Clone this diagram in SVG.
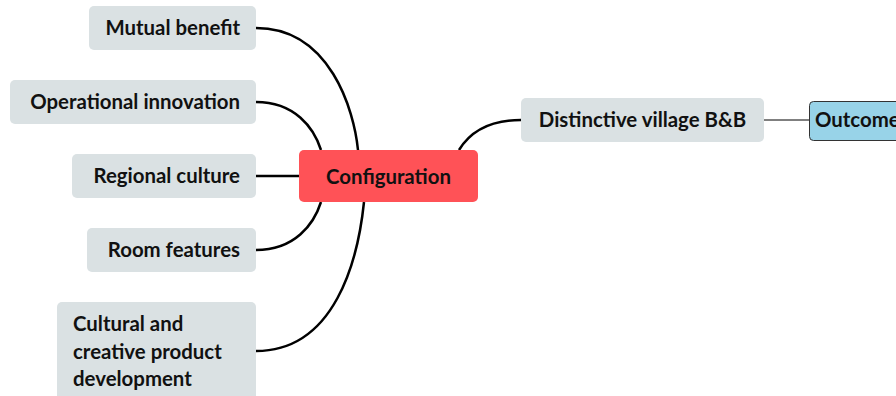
<svg xmlns="http://www.w3.org/2000/svg" width="896" height="396" viewBox="0 0 896 396">
<style>
.sub{fill:#dae1e3}
.t{font-family:Lato,"Noto Sans",sans-serif;font-weight:bold;font-size:20.4px;fill:#111}
.c{fill:none;stroke:#000;stroke-width:2.5}
</style>
<rect width="896" height="396" fill="#fff"/>
<g id="connectors">
<path class="c" d="M256,28 C330,28 354,110 358,150"/>
<path class="c" d="M256,102 C295,102 314,128 321,150"/>
<path class="c" d="M256,176 L299,176"/>
<path class="c" d="M256,250 C295,250 314,224 321,202"/>
<path class="c" d="M256,351 C335,351 358,260 364,202"/>
<path class="c" d="M459,150 C470,132 488,120 521,120"/>
<path d="M764,120 L809,120" stroke="#000" stroke-width="1"/>
</g>
<g id="mutual"><rect class="sub" x="89" y="6" width="167" height="44" rx="5"/><text class="t" x="240" y="35" text-anchor="end">Mutual benefit</text></g>
<g id="operational"><rect class="sub" x="10" y="80" width="246" height="44" rx="5"/><text class="t" x="240" y="109" text-anchor="end">Operational innovation</text></g>
<g id="regional"><rect class="sub" x="72" y="154" width="184" height="44" rx="5"/><text class="t" x="240" y="183" text-anchor="end">Regional culture</text></g>
<g id="room"><rect class="sub" x="87" y="228" width="169" height="44" rx="5"/><text class="t" x="240" y="257" text-anchor="end">Room features</text></g>
<g id="cultural"><rect class="sub" x="57" y="302" width="199" height="100" rx="5"/><text class="t" x="73" y="331">Cultural and</text><text class="t" x="73" y="358.5">creative product</text><text class="t" x="73" y="386">development</text></g>
<g id="configuration"><rect x="299" y="150" width="179" height="52" rx="5" fill="#ff5257"/><text class="t" x="388.5" y="184" text-anchor="middle">Configuration</text></g>
<g id="distinctive"><rect class="sub" x="521" y="98" width="243" height="44" rx="5"/><text class="t" x="642.5" y="127" text-anchor="middle">Distinctive village B&amp;B</text></g>
<g id="outcome"><rect x="809.5" y="101.5" width="100" height="39" rx="4" fill="#98d3e8" stroke="#333" stroke-width="1"/><text class="t" x="815" y="127">Outcome</text></g>
</svg>
